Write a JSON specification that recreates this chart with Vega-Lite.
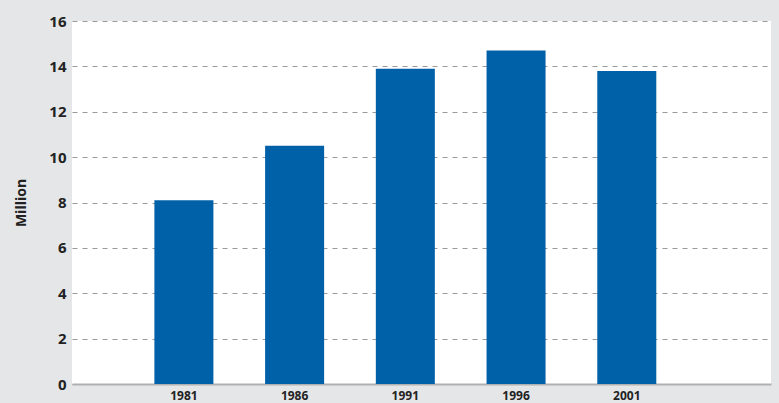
{
  "$schema": "https://vega.github.io/schema/vega-lite/v6.json",
  "width": 699,
  "height": 363,
  "autosize": {"type": "none"},
  "padding": {"left": 72, "top": 21, "right": 8, "bottom": 19},
  "background": "#e5e6e8",
  "config": {
    "view": {"fill": "white", "stroke": null},
    "font": "Open Sans"
  },
  "data": {
    "values": [
      {"year": "1981", "value": 8.1},
      {"year": "1986", "value": 10.5},
      {"year": "1991", "value": 13.9},
      {"year": "1996", "value": 14.7},
      {"year": "2001", "value": 13.8}
    ]
  },
  "mark": {"type": "bar", "color": "#0060a8"},
  "encoding": {
    "x": {
      "field": "year",
      "type": "ordinal",
      "scale": {"paddingInner": 0.467, "paddingOuter": 0.89, "align": 0.418},
      "axis": {
        "title": null,
        "labelAngle": 0,
        "labelFontSize": 12,
        "labelFontWeight": "bold",
        "labelColor": "#222",
        "ticks": false,
        "labelPadding": 6,
        "domainColor": "#b0b0b0",
        "domainWidth": 2,
        "zindex": 0
      }
    },
    "y": {
      "field": "value",
      "type": "quantitative",
      "scale": {"domain": [0, 16]},
      "axis": {
        "title": "Million",
        "titleFontSize": 14,
        "titleFontWeight": "bold",
        "titleColor": "#222",
        "titlePadding": 20,
        "values": [0, 2, 4, 6, 8, 10, 12, 14, 16],
        "labelFontSize": 15,
        "labelFontWeight": "bold",
        "labelColor": "#222",
        "labelPadding": 6,
        "ticks": false,
        "domain": false,
        "gridColor": "#9a9a9a",
        "gridDash": [5, 5],
        "gridWidth": 1
      }
    }
  }
}
